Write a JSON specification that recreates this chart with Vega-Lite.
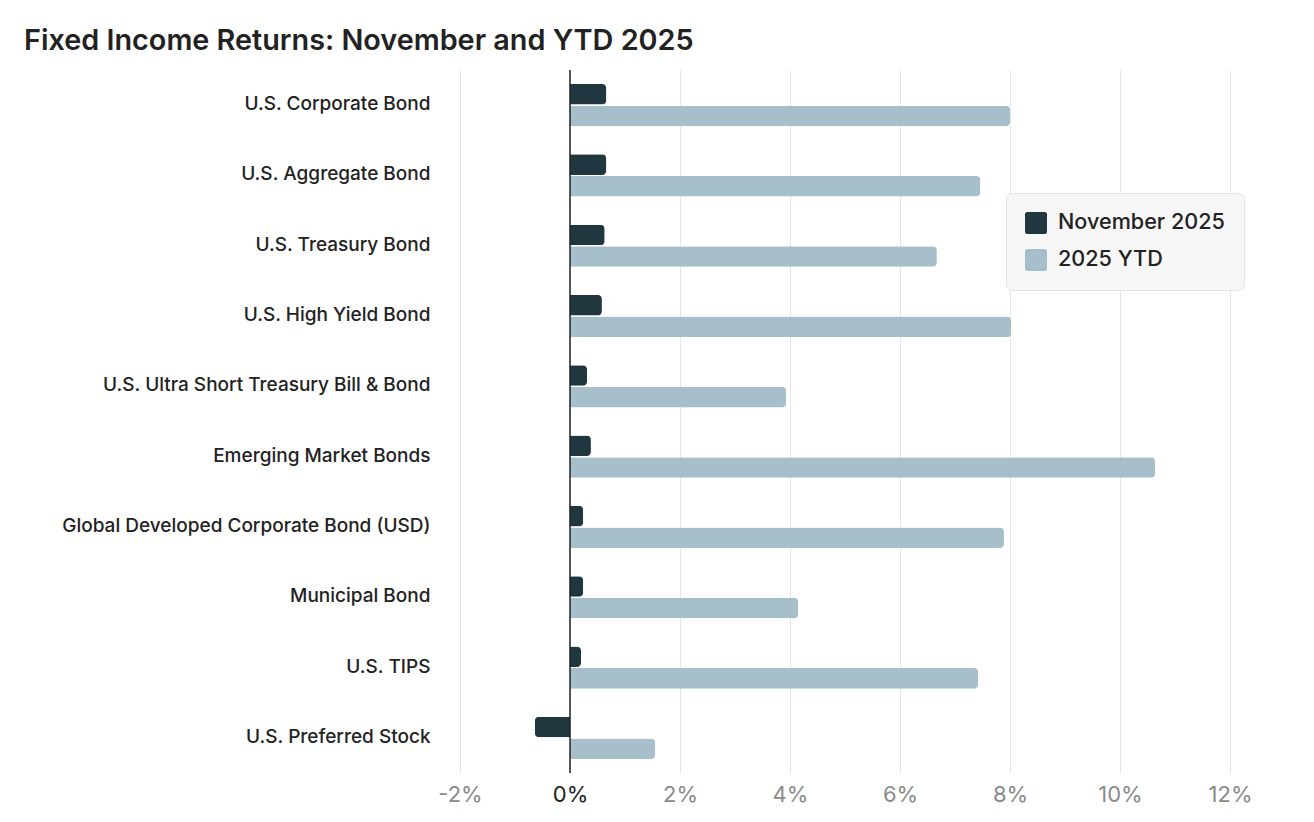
{
  "$schema": "https://vega.github.io/schema/vega-lite/v6.json",
  "width": 770,
  "height": 703,
  "autosize": {"type": "none"},
  "padding": {"left": 460, "top": 70, "right": 84, "bottom": 49},
  "background": "white",
  "title": {
    "text": "Fixed Income Returns: November and YTD 2025",
    "anchor": "start",
    "frame": "group",
    "dx": -436,
    "offset": -10,
    "baseline": "alphabetic",
    "font": "Inter",
    "fontSize": 28.8,
    "fontWeight": 600,
    "color": "#222222"
  },
  "config": {
    "view": {"stroke": null},
    "font": "Inter"
  },
  "data": {
    "values": [
      {"category": "U.S. Corporate Bond", "series": "November 2025", "value": 0.66},
      {"category": "U.S. Corporate Bond", "series": "2025 YTD", "value": 8.0},
      {"category": "U.S. Aggregate Bond", "series": "November 2025", "value": 0.66},
      {"category": "U.S. Aggregate Bond", "series": "2025 YTD", "value": 7.46},
      {"category": "U.S. Treasury Bond", "series": "November 2025", "value": 0.63},
      {"category": "U.S. Treasury Bond", "series": "2025 YTD", "value": 6.67},
      {"category": "U.S. High Yield Bond", "series": "November 2025", "value": 0.58},
      {"category": "U.S. High Yield Bond", "series": "2025 YTD", "value": 8.02},
      {"category": "U.S. Ultra Short Treasury Bill & Bond", "series": "November 2025", "value": 0.31},
      {"category": "U.S. Ultra Short Treasury Bill & Bond", "series": "2025 YTD", "value": 3.93},
      {"category": "Emerging Market Bonds", "series": "November 2025", "value": 0.38},
      {"category": "Emerging Market Bonds", "series": "2025 YTD", "value": 10.64},
      {"category": "Global Developed Corporate Bond (USD)", "series": "November 2025", "value": 0.24},
      {"category": "Global Developed Corporate Bond (USD)", "series": "2025 YTD", "value": 7.89},
      {"category": "Municipal Bond", "series": "November 2025", "value": 0.24},
      {"category": "Municipal Bond", "series": "2025 YTD", "value": 4.15},
      {"category": "U.S. TIPS", "series": "November 2025", "value": 0.2},
      {"category": "U.S. TIPS", "series": "2025 YTD", "value": 7.42},
      {"category": "U.S. Preferred Stock", "series": "November 2025", "value": -0.64},
      {"category": "U.S. Preferred Stock", "series": "2025 YTD", "value": 1.55}
    ]
  },
  "encoding": {
    "y": {
      "field": "category",
      "type": "nominal",
      "sort": null,
      "scale": {"paddingInner": 0.4, "paddingOuter": 0.2},
      "axis": {
        "title": null,
        "domain": false,
        "ticks": false,
        "grid": false,
        "labelFontSize": 19,
        "labelFontWeight": 500,
        "labelColor": "#222222",
        "labelPadding": 30,
        "labelLimit": 500,
        "labelOffset": -1
      }
    },
    "yOffset": {
      "field": "series",
      "type": "nominal",
      "sort": ["November 2025", "2025 YTD"],
      "scale": {"domain": ["November 2025", "2025 YTD"], "paddingInner": 0.05, "paddingOuter": 0}
    },
    "x": {
      "field": "value",
      "type": "quantitative",
      "scale": {"domain": [-2, 12], "nice": false, "zero": false},
      "axis": {
        "title": null,
        "values": [-2, 0, 2, 4, 6, 8, 10, 12],
        "labelExpr": "datum.value + '%'",
        "labelFlush": false,
        "domain": false,
        "ticks": false,
        "grid": true,
        "gridColor": "#e6e6e6",
        "gridWidth": 1,
        "labelFontSize": 22,
        "labelColor": {"condition": {"test": "datum.value == 0", "value": "#222222"}, "value": "#8a8a8a"},
        "labelPadding": 11
      }
    },
    "color": {
      "field": "series",
      "type": "nominal",
      "sort": ["November 2025", "2025 YTD"],
      "scale": {"domain": ["November 2025", "2025 YTD"], "range": ["#21373f", "#a6bfca"]},
      "legend": {
        "title": null,
        "orient": "none",
        "legendX": 546,
        "legendY": 123,
        "fillColor": "#f7f7f7",
        "strokeColor": "#e3e3e3",
        "cornerRadius": 6,
        "padding": 19,
        "symbolType": "M -0.8 -1 L 0.8 -1 Q 1 -1 1 -0.8 L 1 0.8 Q 1 1 0.8 1 L -0.8 1 Q -1 1 -1 0.8 L -1 -0.8 Q -1 -1 -0.8 -1 Z",
        "symbolSize": 484,
        "symbolStrokeWidth": 0,
        "symbolOpacity": 1,
        "labelFontSize": 21.6,
        "labelFontWeight": 500,
        "labelColor": "#222222",
        "labelOffset": 11,
        "labelLimit": 400,
        "rowPadding": 15
      }
    }
  },
  "layer": [
    {
      "transform": [{"filter": "datum.value >= 0"}],
      "mark": {"type": "bar", "cornerRadiusTopRight": 4, "cornerRadiusBottomRight": 4}
    },
    {
      "transform": [{"filter": "datum.value < 0"}],
      "mark": {"type": "bar", "cornerRadiusTopLeft": 4, "cornerRadiusBottomLeft": 4}
    },
    {
      "data": {"values": [{"v": 0}]},
      "mark": {"type": "rule", "color": "#222222", "strokeWidth": 1.5},
      "encoding": {
        "x": {"field": "v", "type": "quantitative"},
        "y": null,
        "yOffset": null,
        "color": null
      }
    }
  ]
}
